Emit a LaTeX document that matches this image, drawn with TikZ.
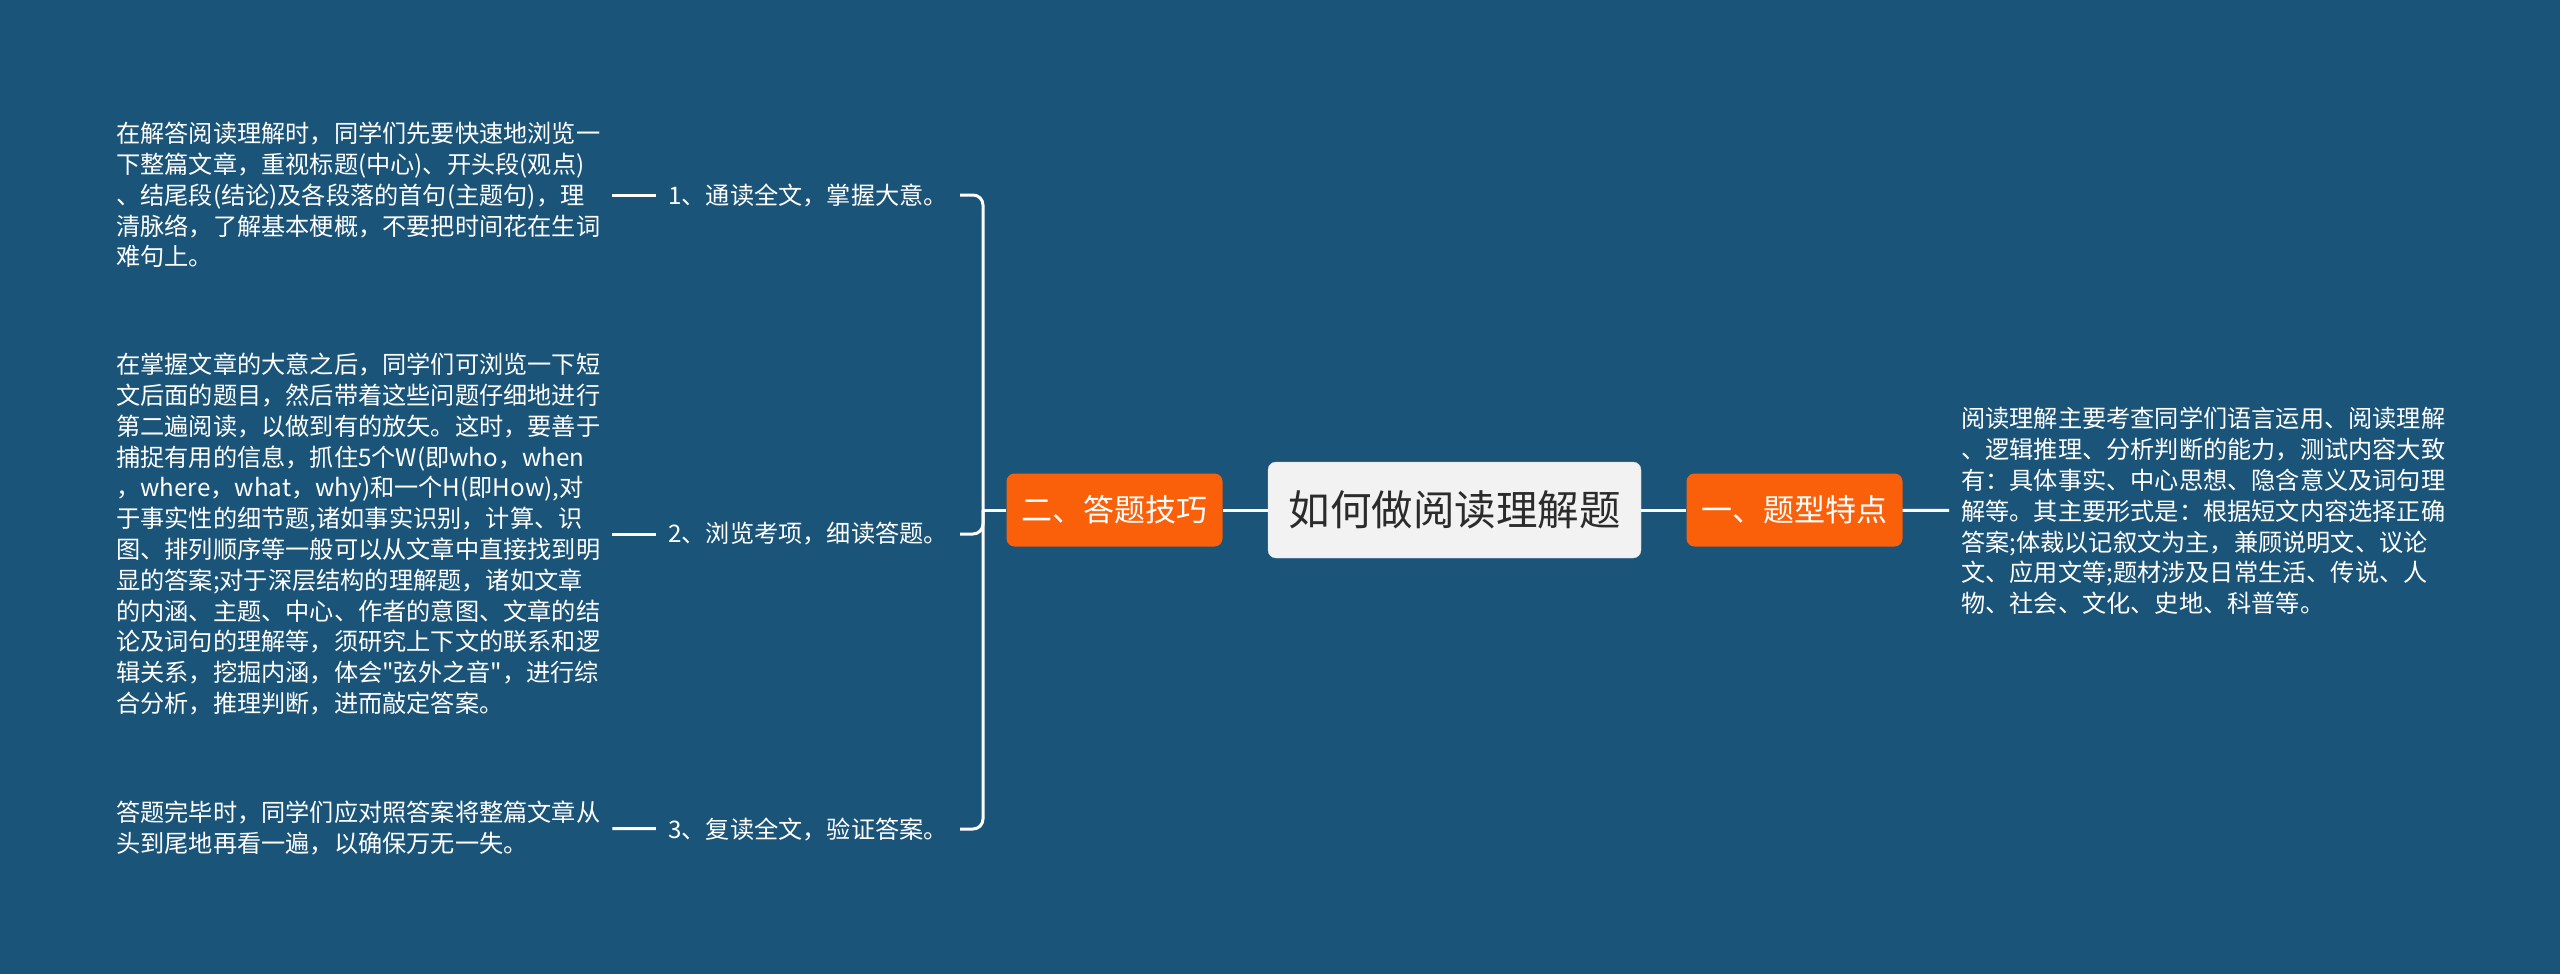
\documentclass[tikz,border=0pt]{standalone}
\usepackage{fontspec}
\setmainfont{Noto Sans CJK SC}[Ligatures=TeXOff]
\usepackage{tikz}
\definecolor{bgblue}{HTML}{1B5479}
\definecolor{topicorange}{HTML}{FA600A}
\definecolor{rootgray}{HTML}{F2F2F2}
\definecolor{rootink}{HTML}{2B2B2B}
\tikzset{
  rootbox/.style={fill=rootgray, draw=gray!30, rounded corners=8pt, minimum width=373pt, minimum height=96pt, text=rootink, font=\fontsize{41.5pt}{48pt}\selectfont, inner sep=0pt},
  topicbox/.style={fill=topicorange, rounded corners=8pt, minimum width=216pt, minimum height=73pt, text=white, font=\fontsize{31pt}{36pt}\selectfont, inner sep=0pt},
  stepbox/.style={text=white, font=\fontsize{24.2pt}{30pt}\selectfont, inner xsep=12pt, inner ysep=0pt},
  notebox/.style={text=white, align=left, text width=484pt, font=\fontsize{24.2pt}{30.8pt}\selectfont, inner xsep=12pt, inner ysep=0pt},
  link/.style={draw=white, line width=3pt},
}

\begin{document}
\begin{tikzpicture}[x=1pt,y=-1pt]
\fill[bgblue] (0,0) rectangle (2560,974);
\useasboundingbox (0,0) rectangle (2560,974);

\node[rootbox] (root) at (1454.5,510) {如何做阅读理解题};
\node[topicbox] (skill) at (1114.5,510) {二、答题技巧};
\node[topicbox] (kind) at (1794.5,510) {一、题型特点};

\node[notebox, anchor=west] (kindnote) at (1949,511) {阅读理解主要考查同学们语言运用、阅读理解\\
、逻辑推理、分析判断的能力，测试内容大致\\
有：具体事实、中心思想、隐含意义及词句理\\
解等。其主要形式是：根据短文内容选择正确\\
答案;体裁以记叙文为主，兼顾说明文、议论\\
文、应用文等;题材涉及日常生活、传说、人\\
物、社会、文化、史地、科普等。};

\node[stepbox, anchor=east] (read) at (960,195) {1、通读全文，掌握大意。};
\node[stepbox, anchor=east] (scan) at (960,534) {2、浏览考项，细读答题。};
\node[stepbox, anchor=east] (check) at (960,829) {3、复读全文，验证答案。};

\node[notebox, anchor=west] (readnote) at (104,195) {在解答阅读理解时，同学们先要快速地浏览一\\
下整篇文章，重视标题(中心)、开头段(观点)\\
、结尾段(结论)及各段落的首句(主题句)，理\\
清脉络，了解基本梗概，不要把时间花在生词\\
难句上。};
\node[notebox, anchor=west] (scannote) at (104,534) {在掌握文章的大意之后，同学们可浏览一下短\\
文后面的题目，然后带着这些问题仔细地进行\\
第二遍阅读，以做到有的放矢。这时，要善于\\
捕捉有用的信息，抓住5个W(即who，when\\
，where，what，why)和一个H(即How),对\\
于事实性的细节题,诸如事实识别，计算、识\\
图、排列顺序等一般可以从文章中直接找到明\\
显的答案;对于深层结构的理解题，诸如文章\\
的内涵、主题、中心、作者的意图、文章的结\\
论及词句的理解等，须研究上下文的联系和逻\\
辑关系，挖掘内涵，体会"弦外之音"，进行综\\
合分析，推理判断，进而敲定答案。};
\node[notebox, anchor=west] (checknote) at (104,828) {答题完毕时，同学们应对照答案将整篇文章从\\
头到尾地再看一遍，以确保万无一失。};

\coordinate (fork) at (983,510);
\draw[link] (root) -- (skill);
\draw[link] (root) -- (kind);
\draw[link] (kind) -- (kindnote);
\draw[link] (skill) -- (fork);
\draw[link, rounded corners=10pt] (fork) |- (read);
\draw[link, rounded corners=10pt] (fork) |- (scan);
\draw[link, rounded corners=10pt] (fork) |- (check);
\draw[link] (readnote) -- (read);
\draw[link] (scannote) -- (scan);
\draw[link] (checknote) -- (check);
\end{tikzpicture}
\end{document}
